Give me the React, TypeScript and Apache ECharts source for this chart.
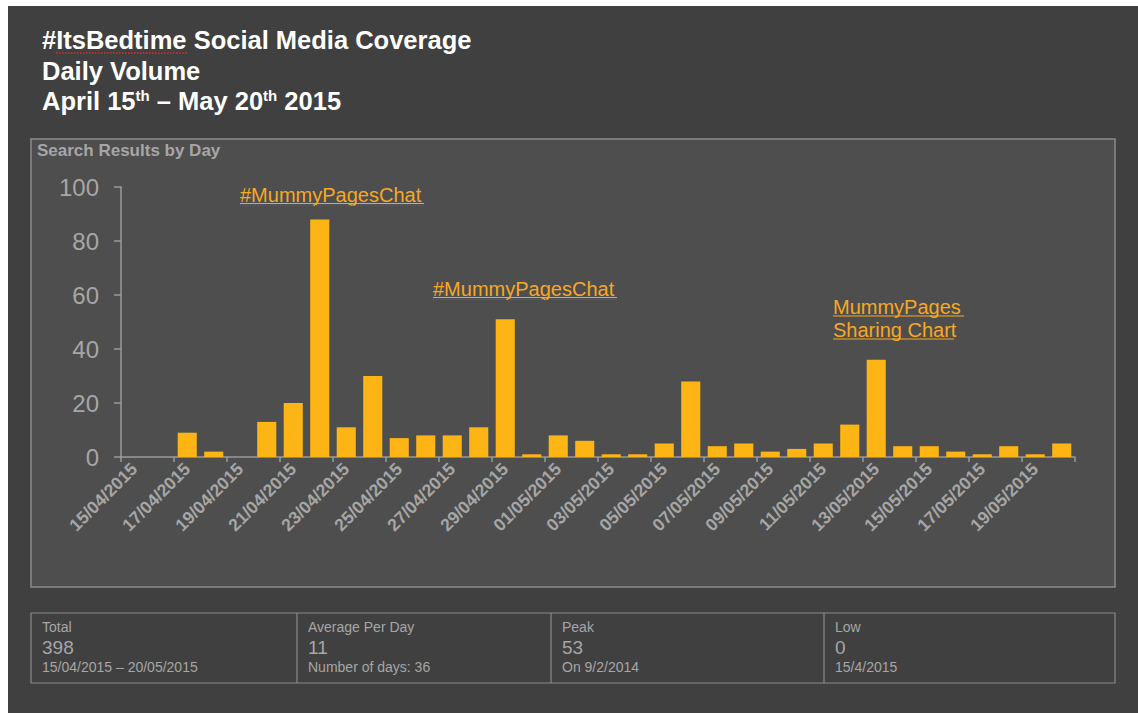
import React, { useEffect, useRef } from "react";
import * as echarts from "echarts";

const categories = [
  "15/04/2015", "16/04/2015", "17/04/2015", "18/04/2015", "19/04/2015", "20/04/2015",
  "21/04/2015", "22/04/2015", "23/04/2015", "24/04/2015", "25/04/2015", "26/04/2015",
  "27/04/2015", "28/04/2015", "29/04/2015", "30/04/2015", "01/05/2015", "02/05/2015",
  "03/05/2015", "04/05/2015", "05/05/2015", "06/05/2015", "07/05/2015", "08/05/2015",
  "09/05/2015", "10/05/2015", "11/05/2015", "12/05/2015", "13/05/2015", "14/05/2015",
  "15/05/2015", "16/05/2015", "17/05/2015", "18/05/2015", "19/05/2015", "20/05/2015",
];

const values = [
  0, 0, 9, 2, 0, 13,
  20, 88, 11, 30, 7, 8,
  8, 11, 51, 1, 8, 6,
  1, 1, 5, 28, 4, 5,
  2, 3, 5, 12, 36, 4,
  4, 2, 1, 4, 1, 5,
];

const titleLines = ["#ItsBedtime Social Media Coverage", "Daily Volume"];
const chartTitle = "Search Results by Day";

const statLabels = ["Total", "Average Per Day", "Peak", "Low"];
const statValues = ["398", "11", "53", "0"];
const statNotes = ["15/04/2015 – 20/05/2015", "Number of days: 36", "On 9/2/2014", "15/4/2015"];

const annotationTexts = ["#MummyPagesChat", "#MummyPagesChat", "MummyPages ", "Sharing Chart"];

const FONT = '"Liberation Sans", Arial, Helvetica, sans-serif';
const ORANGE = "#F7A823";
const BAR = "#FDB515";
const GREY = "#a6a6a6";

export default function App() {
  const ref = useRef<HTMLDivElement>(null);

  useEffect(() => {
    if (!ref.current) return;
    const chart = echarts.init(ref.current, null, { renderer: "svg" });

    // local coordinates = page - (8, 6)
    const statX = [34, 300, 554, 827];
    const dividers = [289, 543, 816];

    const graphic: any[] = [
      // chart panel
      {
        type: "rect", silent: true, z: -5,
        shape: { x: 23, y: 133, width: 1084, height: 448 },
        style: { fill: "#4e4e4e", stroke: "#8a8a8a", lineWidth: 1.5 },
      },
      // title lines
      ...titleLines.map((t, i) => ({
        type: "text", silent: true,
        x: 34, y: 34 + i * 30.5,
        style: { text: t, fill: "#ffffff", font: `bold 25.5px ${FONT}`, verticalAlign: "middle" },
      })),
      {
        type: "text", silent: true,
        x: 34, y: 95,
        style: {
          text: "April 15{sup|th} – May 20{sup|th} 2015",
          fill: "#ffffff",
          font: `bold 25.5px ${FONT}`,
          verticalAlign: "middle",
          rich: {
            sup: { fontSize: 15, fontWeight: "bold", fontFamily: FONT, fill: "#ffffff", verticalAlign: "top", padding: [0, 0, 12, 0] },
          },
        },
      },
      // spellcheck underline on title hashtag
      {
        type: "line", silent: true,
        shape: { x1: 48, y1: 47, x2: 179, y2: 47 },
        style: { stroke: "#d9302c", lineWidth: 1.5, lineDash: [1.5, 1.5] },
      },
      // chart title
      {
        type: "text", silent: true,
        x: 29, y: 144,
        style: { text: chartTitle, fill: GREY, font: `bold 17px ${FONT}`, verticalAlign: "middle" },
      },
      // annotations
      {
        type: "text", silent: true, x: 232, y: 189,
        style: { text: annotationTexts[0], fill: ORANGE, font: `20px ${FONT}`, verticalAlign: "middle" },
      },
      { type: "line", silent: true, shape: { x1: 232, y1: 197.5, x2: 416, y2: 197.5 }, style: { stroke: ORANGE, lineWidth: 1 } },
      { type: "line", silent: true, shape: { x1: 232, y1: 199.5, x2: 416, y2: 199.5 }, style: { stroke: "#d9302c", lineWidth: 1, lineDash: [1, 1.5] } },
      {
        type: "text", silent: true, x: 425, y: 283,
        style: { text: annotationTexts[1], fill: ORANGE, font: `20px ${FONT}`, verticalAlign: "middle" },
      },
      { type: "line", silent: true, shape: { x1: 425, y1: 291.5, x2: 609, y2: 291.5 }, style: { stroke: ORANGE, lineWidth: 1 } },
      { type: "line", silent: true, shape: { x1: 425, y1: 293.5, x2: 609, y2: 293.5 }, style: { stroke: "#d9302c", lineWidth: 1, lineDash: [1, 1.5] } },
      {
        type: "text", silent: true, x: 825, y: 301,
        style: { text: annotationTexts[2], fill: ORANGE, font: `20px ${FONT}`, verticalAlign: "middle" },
      },
      { type: "line", silent: true, shape: { x1: 825, y1: 310, x2: 956, y2: 310 }, style: { stroke: ORANGE, lineWidth: 1 } },
      {
        type: "text", silent: true, x: 825, y: 324,
        style: { text: annotationTexts[3], fill: ORANGE, font: `20px ${FONT}`, verticalAlign: "middle" },
      },
      { type: "line", silent: true, shape: { x1: 825, y1: 333, x2: 946, y2: 333 }, style: { stroke: ORANGE, lineWidth: 1 } },
      // stats table
      {
        type: "rect", silent: true,
        shape: { x: 23, y: 607, width: 1084, height: 70 },
        style: { fill: "#404040", stroke: "#8a8a8a", lineWidth: 1.2 },
      },
      ...dividers.map((x) => ({
        type: "line", silent: true,
        shape: { x1: x, y1: 607, x2: x, y2: 677 },
        style: { stroke: "#8a8a8a", lineWidth: 1.2 },
      })),
      ...statLabels.map((t, i) => ({
        type: "text", silent: true, x: statX[i], y: 621,
        style: { text: t, fill: "#a6a6a6", font: `14px ${FONT}`, verticalAlign: "middle" },
      })),
      ...statValues.map((t, i) => ({
        type: "text", silent: true, x: statX[i], y: 641,
        style: { text: t, fill: "#a6a6a6", font: `19px ${FONT}`, verticalAlign: "middle" },
      })),
      ...statNotes.map((t, i) => ({
        type: "text", silent: true, x: statX[i], y: 661,
        style: { text: t, fill: "#a6a6a6", font: `14px ${FONT}`, verticalAlign: "middle" },
      })),
    ];

    chart.setOption({
      animation: false,
      backgroundColor: "#404040",
      textStyle: { fontFamily: FONT },
      grid: { left: 113, top: 181, width: 954, height: 270, containLabel: false },
      xAxis: {
        type: "category",
        data: categories,
        boundaryGap: true,
        axisLine: { show: true, lineStyle: { color: "#9a9a9a", width: 1.5 } },
        axisTick: { show: true, interval: 1, length: 5, alignWithLabel: false, lineStyle: { color: "#9a9a9a", width: 1.5 } },
        axisLabel: {
          interval: 1,
          rotate: 45,
          margin: 9,
          color: GREY,
          fontSize: 17.5,
          fontWeight: "bold",
          fontFamily: FONT,
        },
        splitLine: { show: false },
      },
      yAxis: {
        type: "value",
        min: 0,
        max: 100,
        interval: 20,
        axisLine: { show: true, lineStyle: { color: "#9a9a9a", width: 1.5 } },
        axisTick: { show: true, length: 7, lineStyle: { color: "#9a9a9a", width: 1.5 } },
        axisLabel: { color: GREY, fontSize: 24, fontFamily: FONT, margin: 22 },
        splitLine: { show: false },
      },
      series: [
        {
          type: "bar",
          data: values,
          barCategoryGap: "28%",
          itemStyle: { color: BAR },
          silent: true,
        },
      ],
      graphic,
    });

    return () => chart.dispose();
  }, []);

  return (
    <div
      style={{ position: "absolute", left: 8, top: 6, width: 1130, height: 707, background: "#404040" }}
    >
      <div ref={ref} style={{ width: 1130, height: 707 }} />
    </div>
  );
}
